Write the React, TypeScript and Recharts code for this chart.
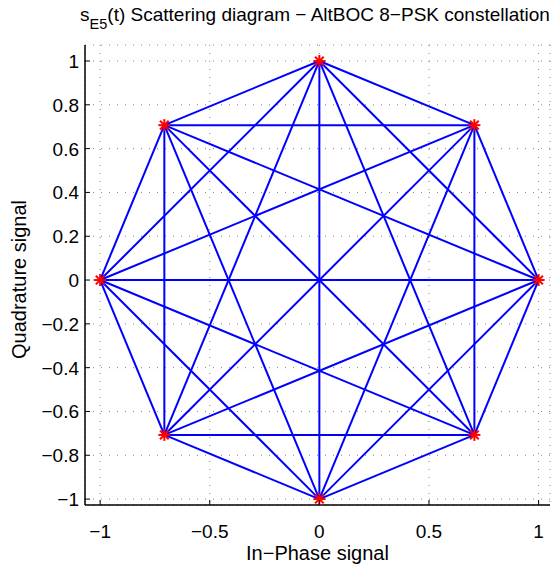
import React from "react";
import {
  CartesianGrid,
  ComposedChart,
  Customized,
  Scatter,
  XAxis,
  YAxis,
} from "recharts";

// 8-PSK constellation points (In-Phase, Quadrature)
const inPhase = [1, 0.7071, 0, -0.7071, -1, -0.7071, 0, 0.7071];
const quadrature = [0, 0.7071, 1, 0.7071, 0, -0.7071, -1, -0.7071];

const xTicks = [-1, -0.5, 0, 0.5, 1];
const yTicks = [-1, -0.8, -0.6, -0.4, -0.2, 0, 0.2, 0.4, 0.6, 0.8, 1];

const X_DOMAIN: [number, number] = [-1.069, 1.052];
const Y_DOMAIN: [number, number] = [-1.027, 1.073];

const FONT = "'Liberation Sans', Arial, Helvetica, sans-serif";
const TICK_LEN = 5;

const points = inPhase.map((x, i) => ({ x, y: quadrature[i] }));

// every pair of symbols is joined by a transition line
const edges: { x: number; y: number }[][] = [];
for (let i = 0; i < points.length; i++) {
  for (let j = i + 1; j < points.length; j++) {
    edges.push([points[i], points[j]]);
  }
}

const fmt = (v: number) => {
  if (v === 0) return "0";
  const s = String(Math.abs(v));
  return v < 0 ? "\u2212" + s : s;
};

function BottomTick(props: any) {
  const { x, y, payload } = props;
  return (
    <g>
      <line x1={x} x2={x} y1={y} y2={y - TICK_LEN} stroke="#000" strokeWidth={1} />
      <text x={x} y={y + 33} textAnchor="middle" fontSize={19} fontFamily={FONT} fill="#000">
        {fmt(payload.value)}
      </text>
    </g>
  );
}

function TopTick(props: any) {
  const { x, y } = props;
  return <line x1={x} x2={x} y1={y} y2={y + TICK_LEN} stroke="#000" strokeWidth={1} />;
}

function LeftTick(props: any) {
  const { x, y, payload } = props;
  return (
    <g>
      <line x1={x} x2={x + TICK_LEN} y1={y} y2={y} stroke="#000" strokeWidth={1} />
      <text x={x - 6} y={y + 7} textAnchor="end" fontSize={19} fontFamily={FONT} fill="#000">
        {fmt(payload.value)}
      </text>
    </g>
  );
}

function RightTick(props: any) {
  const { x, y } = props;
  return <line x1={x} x2={x - TICK_LEN} y1={y} y2={y} stroke="#000" strokeWidth={1} />;
}

// MATLAB style '*' marker
function Asterisk(props: any) {
  const { cx, cy } = props;
  const r = 6;
  const d = r * 0.72;
  return (
    <g stroke="#ff0000" strokeWidth={2}>
      <line x1={cx - r} x2={cx + r} y1={cy} y2={cy} />
      <line x1={cx} x2={cx} y1={cy - r} y2={cy + r} />
      <line x1={cx - d} x2={cx + d} y1={cy - d} y2={cy + d} />
      <line x1={cx - d} x2={cx + d} y1={cy + d} y2={cy - d} />
    </g>
  );
}

const NoDot = () => <g />;

function Title() {
  return (
    <text x={315} y={21} textAnchor="middle" fontSize={19} fontFamily={FONT} fill="#000">
      <tspan>s</tspan>
      <tspan dy={8} fontSize={14.5}>E5</tspan>
      <tspan dy={-8}>(t) Scattering diagram {"\u2212"} AltBOC 8{"\u2212"}PSK constellation</tspan>
    </text>
  );
}

export default function App() {
  return (
    <div style={{ position: "absolute", left: 0, top: 0, background: "#fff" }}>
      <ComposedChart
        width={559}
        height={568}
        margin={{ top: 45, right: 9, left: 0, bottom: 0 }}
      >
        <CartesianGrid
          xAxisId="b"
          yAxisId="l"
          stroke="#808080"
          strokeDasharray="1 7"
        />
        <XAxis
          xAxisId="b"
          dataKey="x"
          type="number"
          domain={X_DOMAIN}
          ticks={xTicks}
          allowDataOverflow
          height={63}
          tickSize={0}
          tickMargin={0}
          tickLine={false}
          axisLine={{ stroke: "#000", strokeWidth: 1.5 }}
          tick={<BottomTick />}
          label={{
            value: "In\u2212Phase signal",
            position: "insideBottom",
            offset: 8,
            fontSize: 20,
            fontFamily: FONT,
            fill: "#000",
          }}
        />
        <XAxis
          xAxisId="t"
          orientation="top"
          dataKey="x"
          type="number"
          domain={X_DOMAIN}
          ticks={xTicks}
          allowDataOverflow
          height={0}
          tickSize={0}
          tickMargin={0}
          tickLine={false}
          axisLine={{ stroke: "#000", strokeWidth: 1.5 }}
          tick={<TopTick />}
        />
        <YAxis
          yAxisId="l"
          dataKey="y"
          type="number"
          domain={Y_DOMAIN}
          ticks={yTicks}
          allowDataOverflow
          width={85}
          tickSize={0}
          tickMargin={0}
          tickLine={false}
          axisLine={{ stroke: "#000", strokeWidth: 1.5 }}
          tick={<LeftTick />}
          label={{
            value: "Quadrature signal",
            angle: -90,
            position: "insideLeft",
            offset: 19,
            dy: 84,
            fontSize: 20,
            fontFamily: FONT,
            fill: "#000",
          }}
        />
        <YAxis
          yAxisId="r"
          orientation="right"
          dataKey="y"
          type="number"
          domain={Y_DOMAIN}
          ticks={yTicks}
          allowDataOverflow
          width={0}
          tickSize={0}
          tickMargin={0}
          tickLine={false}
          axisLine={{ stroke: "#000", strokeWidth: 1.5 }}
          tick={<RightTick />}
        />
        {edges.map((pair, i) => (
          <Scatter
            key={i}
            xAxisId="b"
            yAxisId="l"
            data={pair}
            line={{ stroke: "#0000ff", strokeWidth: 2 }}
            shape={<NoDot />}
            legendType="none"
            isAnimationActive={false}
          />
        ))}
        <Scatter
          xAxisId="t"
          yAxisId="r"
          data={points}
          shape={<Asterisk />}
          legendType="none"
          isAnimationActive={false}
        />
        <Customized component={<Title />} />
      </ComposedChart>
    </div>
  );
}
